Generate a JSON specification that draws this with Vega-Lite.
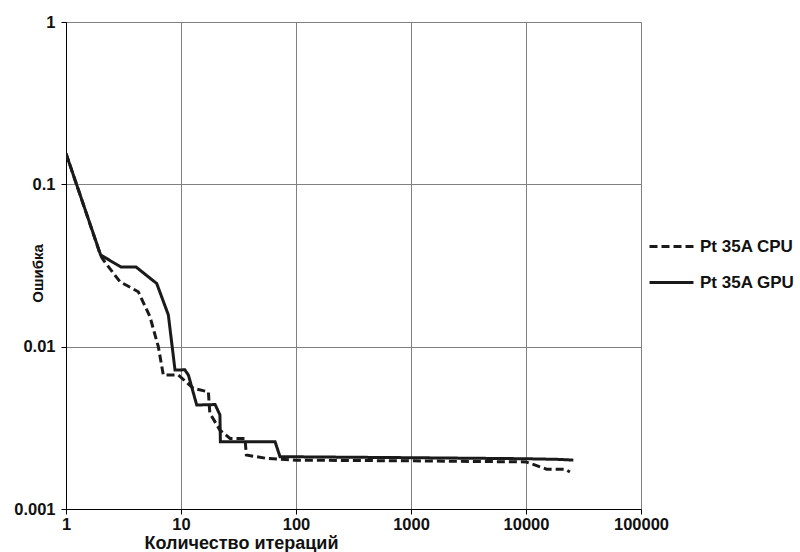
{
  "$schema": "https://vega.github.io/schema/vega-lite/v6.json",
  "width": 575,
  "height": 487,
  "autosize": {"type": "none"},
  "padding": {"left": 66, "top": 22, "right": 159, "bottom": 43},
  "background": "white",
  "config": {
    "view": {"stroke": null},
    "font": "Liberation Sans",
    "axis": {
      "gridColor": "#808080",
      "gridWidth": 1,
      "gridOpacity": 1,
      "domainColor": "#000000",
      "domainWidth": 1,
      "tickColor": "#000000",
      "tickSize": 5,
      "labelFont": "Liberation Sans",
      "labelFontWeight": "bold",
      "labelFontSize": 16.5,
      "labelColor": "#111111",
      "titleFont": "Liberation Sans",
      "titleColor": "#111111"
    }
  },
  "data": {
    "values": [
      {"series": "Pt 35A CPU", "iter": 1, "err": 0.155},
      {"series": "Pt 35A CPU", "iter": 2.0, "err": 0.0365},
      {"series": "Pt 35A CPU", "iter": 2.11, "err": 0.0342},
      {"series": "Pt 35A CPU", "iter": 2.95, "err": 0.0251},
      {"series": "Pt 35A CPU", "iter": 4.25, "err": 0.0218},
      {"series": "Pt 35A CPU", "iter": 5.37, "err": 0.0153},
      {"series": "Pt 35A CPU", "iter": 6.35, "err": 0.01},
      {"series": "Pt 35A CPU", "iter": 7.02, "err": 0.00668},
      {"series": "Pt 35A CPU", "iter": 9.5, "err": 0.00668},
      {"series": "Pt 35A CPU", "iter": 12.8, "err": 0.00553},
      {"series": "Pt 35A CPU", "iter": 17.3, "err": 0.00527},
      {"series": "Pt 35A CPU", "iter": 17.8, "err": 0.0039},
      {"series": "Pt 35A CPU", "iter": 21.8, "err": 0.00306},
      {"series": "Pt 35A CPU", "iter": 26.7, "err": 0.00272},
      {"series": "Pt 35A CPU", "iter": 36, "err": 0.00272},
      {"series": "Pt 35A CPU", "iter": 37, "err": 0.00215},
      {"series": "Pt 35A CPU", "iter": 55.6, "err": 0.00205},
      {"series": "Pt 35A CPU", "iter": 100, "err": 0.002},
      {"series": "Pt 35A CPU", "iter": 1000, "err": 0.00198},
      {"series": "Pt 35A CPU", "iter": 10000, "err": 0.00195},
      {"series": "Pt 35A CPU", "iter": 15100, "err": 0.00176},
      {"series": "Pt 35A CPU", "iter": 21800, "err": 0.00176},
      {"series": "Pt 35A CPU", "iter": 24100, "err": 0.00169},
      {"series": "Pt 35A GPU", "iter": 1, "err": 0.155},
      {"series": "Pt 35A GPU", "iter": 2, "err": 0.0367},
      {"series": "Pt 35A GPU", "iter": 3, "err": 0.031},
      {"series": "Pt 35A GPU", "iter": 4.06, "err": 0.031},
      {"series": "Pt 35A GPU", "iter": 6.15, "err": 0.0245},
      {"series": "Pt 35A GPU", "iter": 7.76, "err": 0.0157},
      {"series": "Pt 35A GPU", "iter": 8.87, "err": 0.00718},
      {"series": "Pt 35A GPU", "iter": 10.8, "err": 0.0072},
      {"series": "Pt 35A GPU", "iter": 11.6, "err": 0.00668},
      {"series": "Pt 35A GPU", "iter": 13.7, "err": 0.00437},
      {"series": "Pt 35A GPU", "iter": 19.8, "err": 0.0044},
      {"series": "Pt 35A GPU", "iter": 21.8, "err": 0.0038},
      {"series": "Pt 35A GPU", "iter": 22, "err": 0.0026},
      {"series": "Pt 35A GPU", "iter": 65.7, "err": 0.0026},
      {"series": "Pt 35A GPU", "iter": 72.6, "err": 0.0021},
      {"series": "Pt 35A GPU", "iter": 1000, "err": 0.00207},
      {"series": "Pt 35A GPU", "iter": 10000, "err": 0.00204},
      {"series": "Pt 35A GPU", "iter": 20000, "err": 0.00202},
      {"series": "Pt 35A GPU", "iter": 25800, "err": 0.002}
    ]
  },
  "mark": {"type": "line", "strokeWidth": 3, "color": "#1a1a1a", "strokeJoin": "miter", "clip": true},
  "encoding": {
    "x": {
      "field": "iter",
      "type": "quantitative",
      "scale": {"type": "log", "domain": [1, 100000]},
      "axis": {
        "values": [1, 10, 100, 1000, 10000, 100000],
        "format": "d",
        "title": "Количество итераций",
        "titleFontSize": 18,
        "titleFontWeight": "bold",
        "titleX": 175,
        "titleY": 25,
        "titleBaseline": "top",
        "titleAnchor": "middle",
        "labelPadding": 2,
        "labelFlush": false
      }
    },
    "y": {
      "field": "err",
      "type": "quantitative",
      "scale": {"type": "log", "domain": [0.001, 1]},
      "axis": {
        "values": [0.001, 0.01, 0.1, 1],
        "format": "~g",
        "title": "Ошибка",
        "titleFontSize": 15,
        "titleFontWeight": "bold",
        "titleX": -29,
        "titleY": 251,
        "titleBaseline": "middle",
        "titleAngle": -90,
        "labelPadding": 6
      }
    },
    "strokeDash": {
      "field": "series",
      "type": "nominal",
      "scale": {"domain": ["Pt 35A CPU", "Pt 35A GPU"], "range": [[8, 4], [1, 0]]},
      "legend": {
        "title": null,
        "orient": "none",
        "legendX": 582,
        "legendY": 201,
        "symbolType": "stroke",
        "symbolSize": 1936,
        "symbolStrokeWidth": 3,
        "symbolStrokeColor": "#1a1a1a",
        "labelFont": "Liberation Sans",
        "labelFontWeight": "bold",
        "labelFontSize": 17,
        "labelColor": "#111111",
        "labelOffset": 5,
        "rowPadding": 4
      }
    }
  }
}
